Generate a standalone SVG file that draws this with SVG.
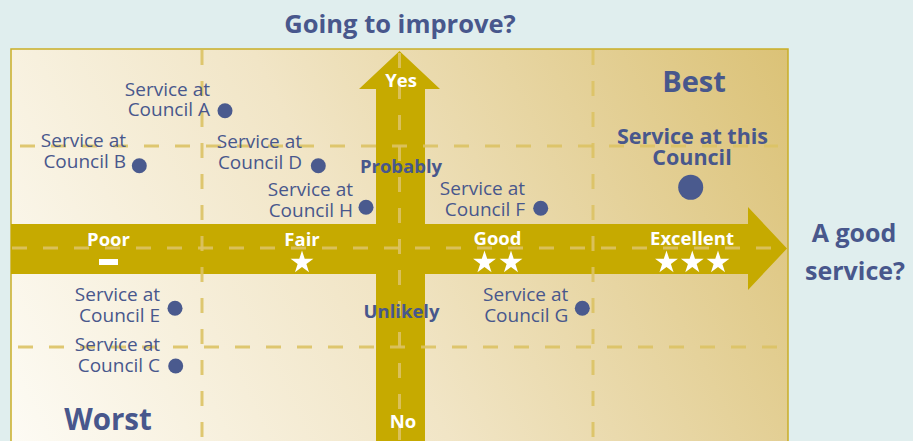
<svg xmlns="http://www.w3.org/2000/svg" width="913" height="441" viewBox="0 0 913 441">
  <defs>
    <linearGradient id="panelFill" gradientUnits="userSpaceOnUse" x1="11" y1="441" x2="787" y2="49">
      <stop offset="0" stop-color="#fdfbf4"/>
      <stop offset="0.45" stop-color="#f1e5c6"/>
      <stop offset="1" stop-color="#dbc277"/>
    </linearGradient>
    <path id="star" d="M0,-12 L2.70,-3.72 L11.41,-3.71 L4.37,1.42 L7.05,9.71 L0,4.6 L-7.05,9.71 L-4.37,1.42 L-11.41,-3.71 L-2.70,-3.72 Z"/>
    <style>
      .grid { stroke: #dcc264; stroke-opacity: 0.9; stroke-width: 3; stroke-dasharray: 15 16; fill: none; }
      .axis { fill: #c6aa00; }
      .lbl { font-family: "Open Sans", "DejaVu Sans", sans-serif; font-size: 19px; fill: #48578c; text-anchor: end; }
      .dot { fill: #4a5a8e; }
      .head { font-family: "Open Sans", "DejaVu Sans", sans-serif; font-weight: bold; fill: #48578c; text-anchor: middle; }
      .tick { font-family: "Open Sans", "DejaVu Sans", sans-serif; font-weight: bold; font-size: 18.5px; text-anchor: middle; }
      .white { fill: #ffffff; }
      .blue { fill: #48578c; }
    </style>
  </defs>

  <!-- page background -->
  <rect x="0" y="0" width="913" height="441" fill="#e0eeee"/>

  <!-- chart panel -->
  <rect x="11" y="49" width="777" height="400" fill="url(#panelFill)" stroke="#c9ae27" stroke-width="1.5"/>

  <!-- axes -->
  <g id="connectors">
    <path id="axis-service" class="axis" d="M11,224 L748,224 L748,207 L787,248.5 L748,290 L748,274 L11,274 Z"/>
    <path id="axis-improve" class="axis" d="M376,441 L376,89 L359,89 L399.5,51 L440,89 L425,89 L425,441 Z"/>
  </g>

  <!-- quadrant grid -->
  <g id="grid">
    <line class="grid" x1="20" y1="146" x2="778" y2="146"/>
    <line class="grid" x1="12" y1="248" x2="786" y2="248"/>
    <line class="grid" x1="18" y1="347" x2="778" y2="347"/>
    <line class="grid" x1="202" y1="50" x2="202" y2="441"/>
    <line class="grid" x1="399.5" y1="53" x2="399.5" y2="441"/>
    <line class="grid" x1="593" y1="50" x2="593" y2="441"/>
  </g>

  <!-- axis titles -->
  <g id="title-improve">
    <text class="head" x="400" y="33" font-size="25.5">Going to improve?</text>
  </g>
  <g id="title-service">
    <text class="head" x="854" y="242" font-size="25">A good</text>
    <text class="head" x="855" y="280" font-size="25">service?</text>
  </g>

  <!-- vertical scale -->
  <g id="scale-improve">
    <text class="tick white" x="401" y="87">Yes</text>
    <text class="tick blue" x="401" y="173">Probably</text>
    <text class="tick blue" x="401.5" y="318">Unlikely</text>
    <text class="tick white" x="403" y="428">No</text>
  </g>

  <!-- horizontal scale -->
  <g id="scale-service">
    <text class="tick white" x="108.5" y="246">Poor</text>
    <rect x="99" y="259" width="19" height="6" fill="#ffffff"/>
    <text class="tick white" x="302" y="246">Fair</text>
    <use href="#star" x="302" y="262.5" fill="#ffffff"/>
    <text class="tick white" x="497.5" y="245">Good</text>
    <use href="#star" x="484.5" y="262.5" fill="#ffffff"/>
    <use href="#star" x="511" y="262.5" fill="#ffffff"/>
    <text class="tick white" x="692" y="245">Excellent</text>
    <use href="#star" x="666.5" y="262.5" fill="#ffffff"/>
    <use href="#star" x="692.3" y="262.5" fill="#ffffff"/>
    <use href="#star" x="718" y="262.5" fill="#ffffff"/>
  </g>

  <!-- corner labels -->
  <g id="label-best">
    <text class="head" x="694" y="91.5" font-size="29">Best</text>
  </g>
  <g id="label-worst">
    <text class="head" x="108" y="430" font-size="29.5">Worst</text>
  </g>

  <!-- services -->
  <g id="service-a">
    <text class="lbl" x="210" y="96">Service at</text>
    <text class="lbl" x="210" y="116">Council A</text>
    <circle class="dot" cx="225" cy="110.7" r="7.5"/>
  </g>
  <g id="service-b">
    <text class="lbl" x="126" y="147">Service at</text>
    <text class="lbl" x="126" y="168">Council B</text>
    <circle class="dot" cx="139.3" cy="165.7" r="7.5"/>
  </g>
  <g id="service-d">
    <text class="lbl" x="302" y="148">Service at</text>
    <text class="lbl" x="302" y="168.5">Council D</text>
    <circle class="dot" cx="318.3" cy="165.7" r="7.5"/>
  </g>
  <g id="service-h">
    <text class="lbl" x="353" y="196">Service at</text>
    <text class="lbl" x="353" y="216.5">Council H</text>
    <circle class="dot" cx="366" cy="207.3" r="7.5"/>
  </g>
  <g id="service-f">
    <text class="lbl" x="525" y="195">Service at</text>
    <text class="lbl" x="525" y="215.5">Council F</text>
    <circle class="dot" cx="540.7" cy="208.3" r="7.5"/>
  </g>
  <g id="service-g">
    <text class="lbl" x="568.3" y="301">Service at</text>
    <text class="lbl" x="568.3" y="322">Council G</text>
    <circle class="dot" cx="582.3" cy="308.3" r="7.5"/>
  </g>
  <g id="service-e">
    <text class="lbl" x="160" y="301">Service at</text>
    <text class="lbl" x="160" y="322">Council E</text>
    <circle class="dot" cx="175" cy="308.3" r="7.5"/>
  </g>
  <g id="service-c">
    <text class="lbl" x="160" y="351">Service at</text>
    <text class="lbl" x="160" y="372">Council C</text>
    <circle class="dot" cx="175.7" cy="366" r="7.5"/>
  </g>
  <g id="service-this">
    <text class="head" x="692.5" y="143.5" font-size="21.5">Service at this</text>
    <text class="head" x="692" y="165" font-size="21.5">Council</text>
    <circle class="dot" cx="690.7" cy="187.3" r="12.5"/>
  </g>
</svg>
